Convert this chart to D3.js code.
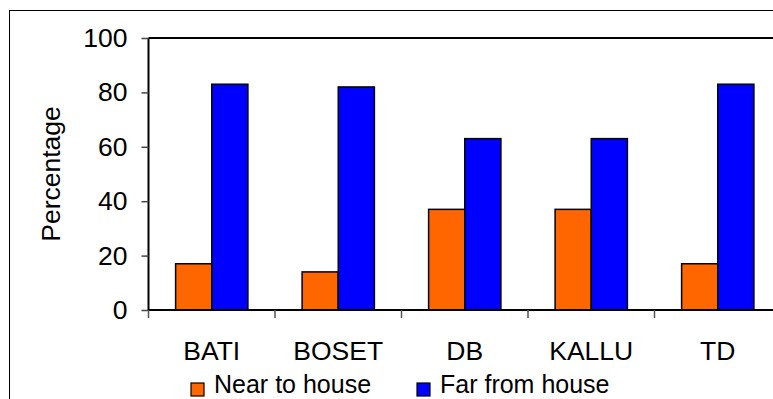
<!DOCTYPE html>
<html><head><meta charset="utf-8">
<script src="https://cdn.jsdelivr.net/npm/d3@7"></script>
<style>html,body{margin:0;padding:0;background:#fff;}svg{display:block;font-family:"Liberation Sans",Arial,sans-serif;}</style>
</head><body>
<svg id="c" width="773" height="399"></svg>
<script>
const categories = ["BATI","BOSET","DB","KALLU","TD"];
const seriesNames = ["Near to house","Far from house"];
const nearValues = [17,14,37,37,17];
const farValues = [83,82,63,63,83];
const yTicks = [0,20,40,60,80,100];
const colors = ["#FF6600","#0000FF"];

(function(){
const FS = 26.5;
const svg = d3.select("#c");
const pL = 148.5, pT = 38, pB = 310, pR = 781;
const x = d3.scaleBand().domain(categories).range([pL, pR]).paddingInner(0).paddingOuter(0);
const y = d3.scaleLinear().domain([0,100]).range([pB, pT]);
const bw = x.bandwidth();
const barW = bw / 3.5;

// outer frame
svg.append("rect").attr("x",9.5).attr("y",10.5).attr("width",800).attr("height",420)
  .attr("fill","none").attr("stroke","#000").attr("stroke-width",1);

// plot area top border
svg.append("line").attr("x1",pL).attr("x2",800).attr("y1",pT).attr("y2",pT)
  .attr("stroke","#000").attr("stroke-width",2);

// bars
const data = categories.map((c,i)=>({c, vals:[nearValues[i], farValues[i]]}));
const g = svg.append("g");
data.forEach(d=>{
  d.vals.forEach((v,j)=>{
    const x0 = x(d.c) + (bw - 2*barW)/2 + j*barW;
    g.append("rect").attr("x",x0).attr("y",y(v)).attr("width",barW).attr("height",y(0)-y(v))
      .attr("fill",colors[j]).attr("stroke","#000").attr("stroke-width",1.5);
  });
});

// y axis
const yAxis = d3.axisLeft(y).tickValues(yTicks).tickSize(7).tickPadding(14);
const ya = svg.append("g").attr("transform",`translate(${pL},0)`).call(yAxis);
ya.select(".domain").attr("stroke","#000").attr("stroke-width",2).attr("d",`M0,${pT}V${pB}`);
ya.selectAll(".tick line").attr("stroke","#444").attr("stroke-width",1.5);
ya.selectAll(".tick text").attr("font-size",FS).attr("fill","#000").attr("font-family","Liberation Sans, Arial, sans-serif");

// x axis
const xa = svg.append("g").attr("transform",`translate(0,${pB})`);
xa.append("line").attr("x1",pL).attr("x2",800).attr("y1",0).attr("y2",0).attr("stroke","#000").attr("stroke-width",2);
const bounds = categories.map(c=>x(c));
xa.selectAll("line.t").data(bounds).enter().append("line").attr("class","t")
  .attr("x1",d=>d).attr("x2",d=>d).attr("y1",0).attr("y2",8).attr("stroke","#555").attr("stroke-width",1.5);
xa.selectAll("text").data(categories).enter().append("text")
  .attr("x",d=>x(d)+bw/2).attr("y",50).attr("text-anchor","middle").attr("font-size",FS).attr("fill","#000")
  .text(d=>d);

// y title
svg.append("text").attr("transform",`translate(60,${(pT+pB)/2}) rotate(-90)`)
  .attr("text-anchor","middle").attr("font-size",FS).attr("fill","#000").text("Percentage");

// legend
const legX = [191, 417];
seriesNames.forEach((n,i)=>{
  svg.append("rect").attr("x",legX[i]).attr("y",383).attr("width",13).attr("height",13)
    .attr("fill",colors[i]).attr("stroke","#000").attr("stroke-width",1.2);
  svg.append("text").attr("x",legX[i]+23).attr("y",393).attr("font-size",25).attr("fill","#000").text(n);
});
})();
</script>
</body></html>
